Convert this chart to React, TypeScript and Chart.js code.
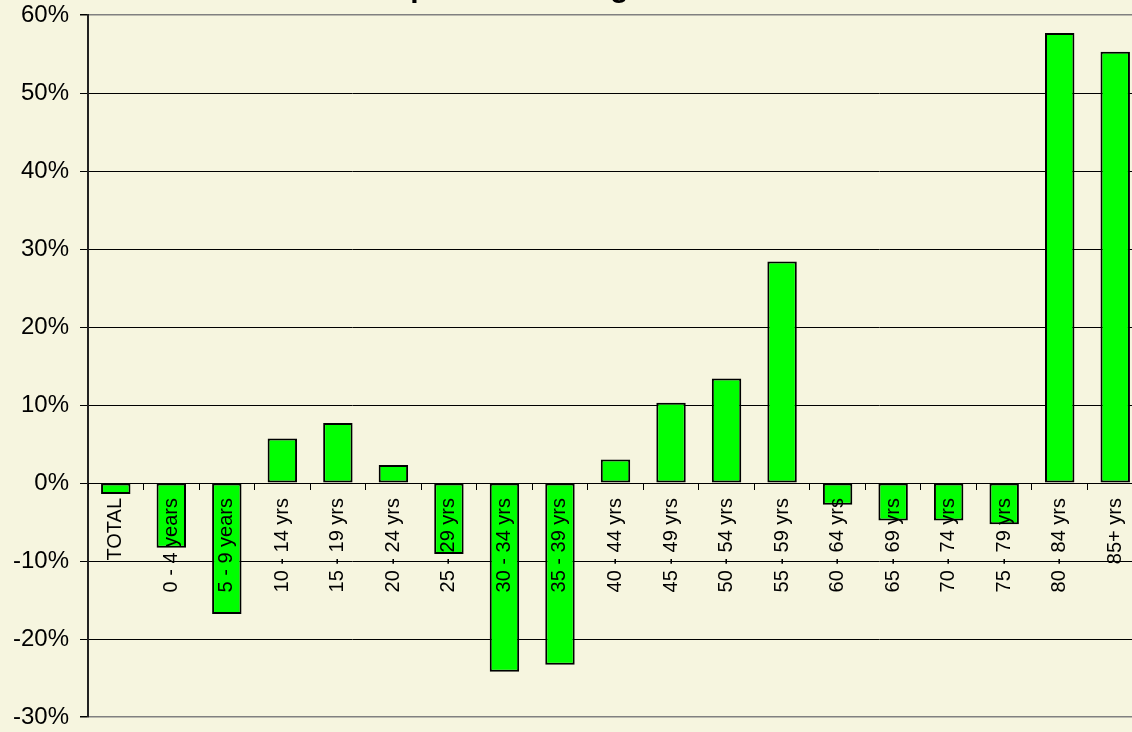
import React, { useEffect, useRef } from 'react';
import { Chart, registerables } from 'chart.js';

Chart.register(...registerables);

const titleText = 'Population Change';

const categories = [
  'TOTAL',
  '0 - 4 years',
  '5 - 9 years',
  '10 - 14 yrs',
  '15 - 19 yrs',
  '20 - 24 yrs',
  '25 - 29 yrs',
  '30 - 34 yrs',
  '35 - 39 yrs',
  '40 - 44 yrs',
  '45 - 49 yrs',
  '50 - 54 yrs',
  '55 - 59 yrs',
  '60 - 64 yrs',
  '65 - 69 yrs',
  '70 - 74 yrs',
  '75 - 79 yrs',
  '80 - 84 yrs',
  '85+ yrs',
];

const changePct = [
  -1.4, -8.3, -16.8, 5.7, 7.7, 2.3, -9.1, -24.2, -23.3, 3.0, 10.3, 13.4, 28.4,
  -2.8, -4.8, -4.8, -5.3, 57.7, 55.3,
];

const yMin = -30;
const yMax = 60;
const yStep = 10;

const FONT = '"Liberation Sans", Arial, Helvetica, sans-serif';

const clippedTitle = {
  id: 'clippedTitle',
  afterDraw(chart: any) {
    const ctx = chart.ctx;
    ctx.save();
    ctx.font = `bold 30px ${FONT}`;
    ctx.fillStyle = '#000';
    ctx.textAlign = 'left';
    ctx.textBaseline = 'alphabetic';
    ctx.fillText(titleText, 372, -3);
    ctx.restore();
  },
};

export default function App() {
  const ref = useRef<HTMLCanvasElement | null>(null);

  useEffect(() => {
    if (!ref.current) return;
    const chart = new Chart(ref.current, {
      type: 'bar',
      data: {
        labels: categories,
        datasets: [
          {
            data: changePct,
            backgroundColor: '#00FF00',
            borderColor: '#000000',
            borderWidth: 2,
            borderSkipped: false,
            categoryPercentage: 1,
            barPercentage: 0.53,
          },
        ],
      },
      options: {
        responsive: false,
        animation: false,
        layout: { padding: { top: 15, bottom: 15, left: 0, right: 8 } },
        plugins: {
          legend: { display: false },
          title: { display: false },
          tooltip: { enabled: false },
        },
        scales: {
          x: {
            type: 'category',
            position: { y: 0 },
            offset: true,
            afterFit: (scale: any) => {
              scale.height = 0;
            },
            grid: {
              offset: true,
              drawOnChartArea: false,
              drawTicks: true,
              tickLength: 6,
              color: '#000',
              z: 1,
            },
            border: { display: true, color: '#000', width: 1, z: 1 },
            ticks: {
              autoSkip: false,
              minRotation: 90,
              maxRotation: 90,
              padding: 9,
              color: '#000',
              z: 2,
              font: { family: FONT, size: 20 },
            },
          },
          y: {
            min: yMin,
            max: yMax,
            afterFit: (scale: any) => {
              scale.width = 88;
              scale.paddingTop = 0;
              scale.paddingBottom = 0;
            },
            grid: {
              color: (c: any) =>
                c.tick && (c.tick.value === yMax || c.tick.value === yMin) ? '#808080' : '#000',
              lineWidth: (c: any) =>
                c.tick && (c.tick.value === yMax || c.tick.value === yMin) ? 1.5 : 1,
              tickColor: '#000',
              tickLength: 8,
            },
            border: { display: true, color: '#222', width: 2 },
            ticks: {
              stepSize: yStep,
              padding: 11,
              color: '#000',
              font: { family: FONT, size: 24 },
              callback: (v: any) => `${v}%`,
            },
          },
        },
      },
      plugins: [clippedTitle],
    });
    return () => chart.destroy();
  }, []);

  return (
    <div
      style={{
        position: 'fixed',
        left: 0,
        top: 0,
        width: 1132,
        height: 732,
        overflow: 'hidden',
        background: '#F6F5DF',
      }}
    >
      <canvas ref={ref} width={1151} height={732} style={{ display: 'block' }} />
    </div>
  );
}
